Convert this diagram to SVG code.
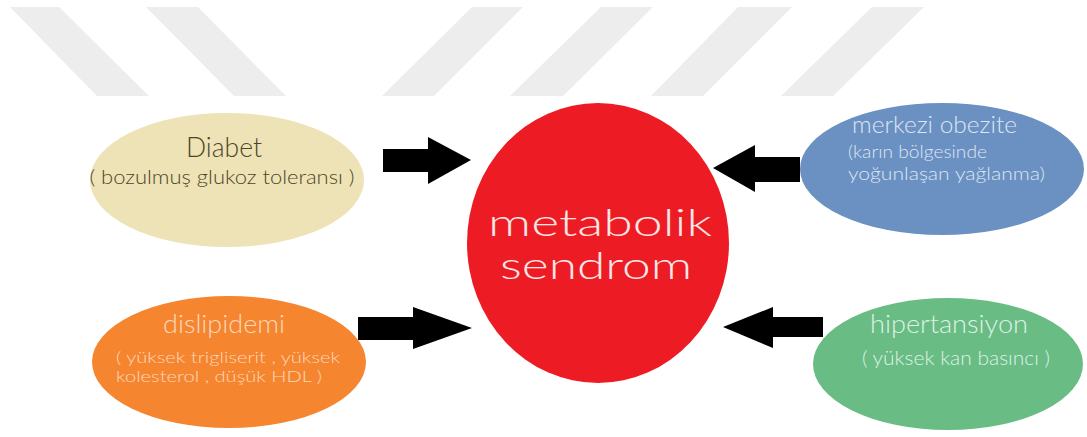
<svg xmlns="http://www.w3.org/2000/svg" width="1087" height="437" viewBox="0 0 1087 437">
  <style>
    .t { font-family: Lato, "Liberation Sans", "DejaVu Sans", sans-serif; font-weight: 300; }
    .stripe { fill: #ededed; }
    .arrow { fill: #000000; }
  </style>
  <rect width="1087" height="437" fill="#ffffff"/>
  <g id="watermark">
    <polygon class="stripe" points="10,7 59,7 149,96 97,96"/>
    <polygon class="stripe" points="146,7 198,7 286,96 234,96"/>
    <polygon class="stripe" points="472,7 523,7 434,96 382,96"/>
    <polygon class="stripe" points="601,7 653,7 563,96 510,96"/>
    <polygon class="stripe" points="738,7 792,7 703,96 651,96"/>
    <polygon class="stripe" points="872,7 924,7 833,96 781,96"/>
  </g>
  <g id="connectors">
    <polygon class="arrow" points="383,149 428,149 428,137 471,160 428,184 428,172 383,172"/>
    <polygon class="arrow" points="800,157 755,157 755,145 713,168 755,192 755,182 800,182"/>
    <polygon class="arrow" points="358,317 413,317 413,307 472,328 413,349 413,340 358,340"/>
    <polygon class="arrow" points="823,317 773,317 773,307 723,327 773,348 773,337 823,337"/>
  </g>
  <g id="metabolik-sendrom">
    <ellipse cx="598" cy="243" rx="131" ry="140" fill="#ed1c24"/>
    <text class="t" x="600" y="236" font-size="37" fill="#fde6e6" text-anchor="middle" textLength="224" lengthAdjust="spacingAndGlyphs">metabolik</text>
    <text class="t" x="596" y="279" font-size="37" fill="#fde6e6" text-anchor="middle" textLength="192" lengthAdjust="spacingAndGlyphs">sendrom</text>
  </g>
  <g id="diabet">
    <ellipse cx="227" cy="180" rx="137" ry="67" fill="#ede3b6"/>
    <text class="t" x="224" y="157" font-size="28" fill="#4d4528" text-anchor="middle" textLength="76" lengthAdjust="spacingAndGlyphs">Diabet</text>
    <text class="t" x="222" y="184" font-size="19" fill="#4d4528" text-anchor="middle" textLength="265" lengthAdjust="spacingAndGlyphs">( bozulmuş glukoz toleransı )</text>
  </g>
  <g id="merkezi-obezite">
    <ellipse cx="942" cy="169" rx="142" ry="66" fill="#6b90c2"/>
    <text class="t" x="852" y="133" font-size="24" fill="#dde6f3" textLength="165" lengthAdjust="spacingAndGlyphs">merkezi obezite</text>
    <text class="t" x="848" y="158" font-size="17" fill="#dde6f3" textLength="139" lengthAdjust="spacingAndGlyphs">(karın bölgesinde</text>
    <text class="t" x="848" y="180" font-size="17" fill="#dde6f3" textLength="197" lengthAdjust="spacingAndGlyphs">yoğunlaşan yağlanma)</text>
  </g>
  <g id="dislipidemi">
    <ellipse cx="229" cy="362" rx="137" ry="66" fill="#f5862f"/>
    <text class="t" x="224" y="333" font-size="25" fill="#fcd8bc" text-anchor="middle" textLength="122" lengthAdjust="spacingAndGlyphs">dislipidemi</text>
    <text class="t" x="116" y="363" font-size="16" fill="#fcd8bc" textLength="224" lengthAdjust="spacingAndGlyphs">( yüksek trigliserit , yüksek</text>
    <text class="t" x="116" y="382" font-size="16" fill="#fcd8bc" textLength="206" lengthAdjust="spacingAndGlyphs">kolesterol , düşük HDL )</text>
  </g>
  <g id="hipertansiyon">
    <ellipse cx="948" cy="364" rx="135" ry="66" fill="#69bc84"/>
    <text class="t" x="949" y="333" font-size="25" fill="#def2e4" text-anchor="middle" textLength="158" lengthAdjust="spacingAndGlyphs">hipertansiyon</text>
    <text class="t" x="956" y="365" font-size="19" fill="#def2e4" text-anchor="middle" textLength="188" lengthAdjust="spacingAndGlyphs">( yüksek kan basıncı )</text>
  </g>
</svg>
